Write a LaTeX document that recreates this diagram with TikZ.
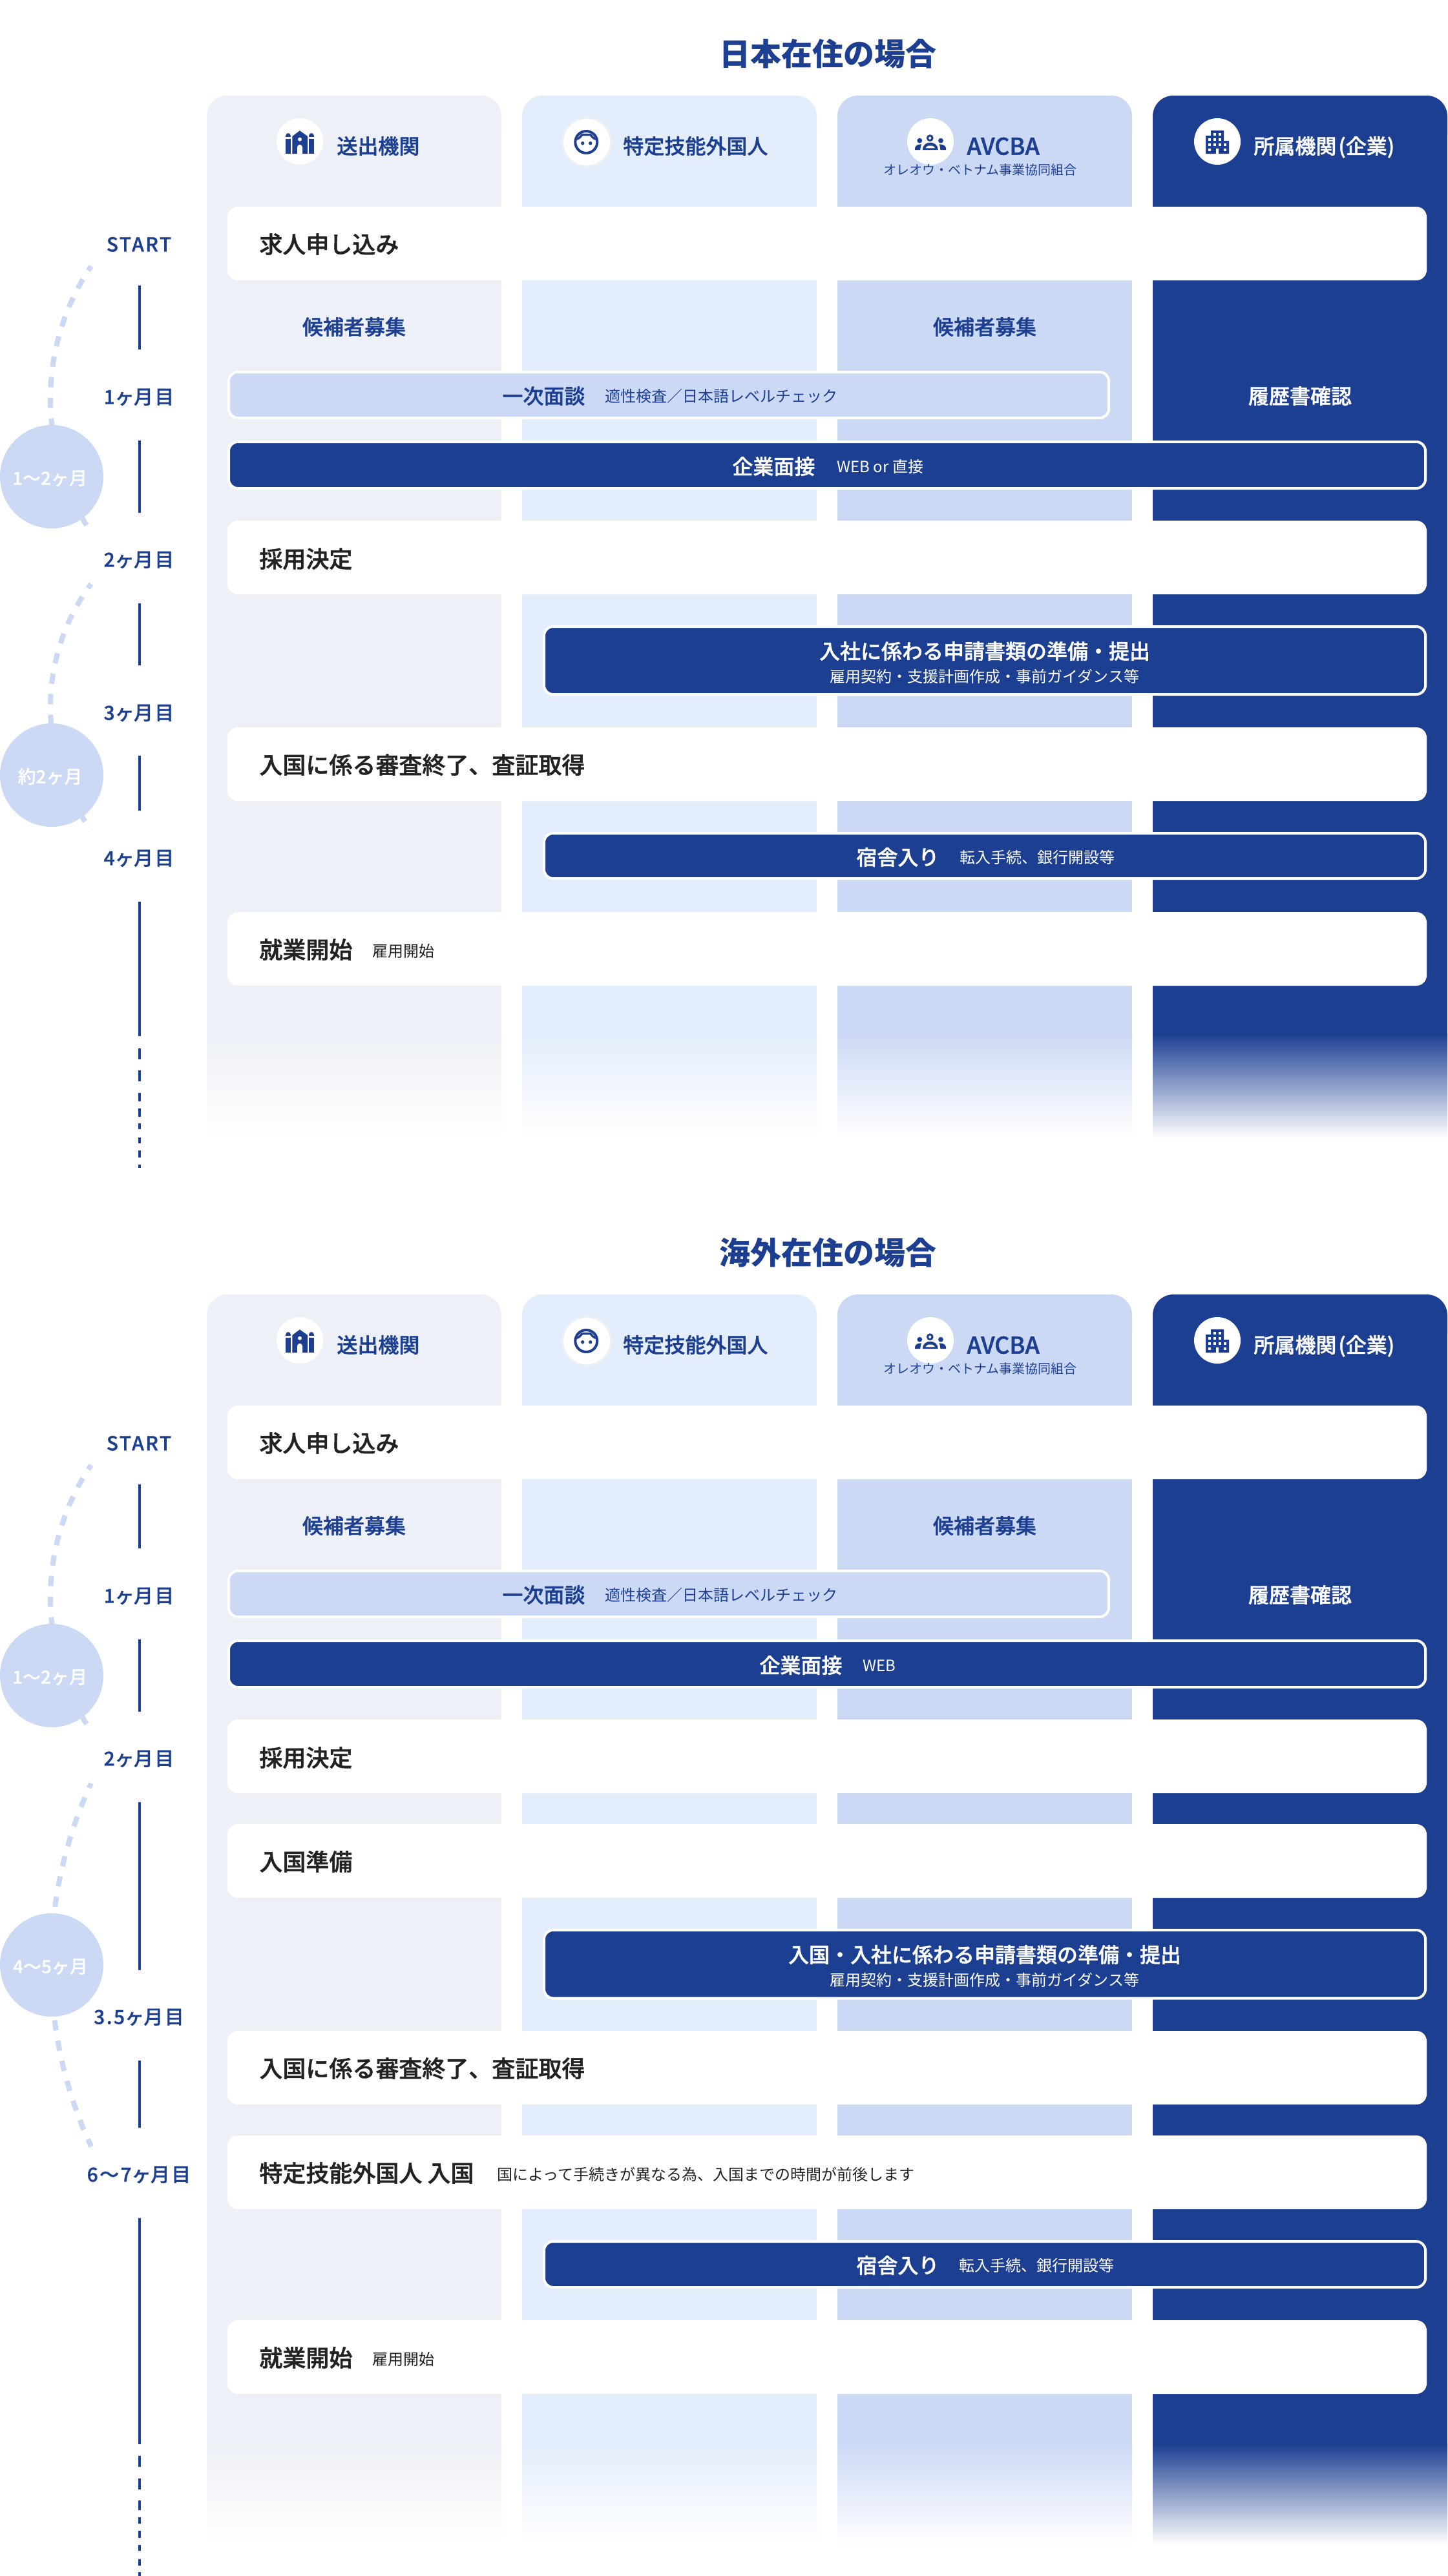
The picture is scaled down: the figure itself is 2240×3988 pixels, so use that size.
\documentclass[tikz,border=0pt]{standalone}
\usepackage{fontspec}
\setmainfont{Noto Sans CJK JP}
\newfontfamily\medf[FakeBold=0.4]{Noto Sans CJK JP Medium}
\newfontfamily\semi[FakeBold=1.2]{Noto Sans CJK JP Medium}
\newfontfamily\labf[LetterSpace=8,RawFeature=+palt,FakeBold=0.8]{Noto Sans CJK JP Medium}
\definecolor{nv}{HTML}{1D3F92}
\definecolor{cola}{HTML}{EDF0F6}
\definecolor{colb}{HTML}{E4EDFC}
\definecolor{colc}{HTML}{CCD9F5}
\definecolor{ink}{HTML}{222222}
\tikzset{
  whiterow/.style={fill=white,rounded corners=8pt},
  darkbar/.style={fill=nv,draw=white,line width=2pt,rounded corners=7pt},
  lightbar/.style={fill=colc,draw=white,line width=2pt,rounded corners=7pt},
  tl/.style={draw=nv,line width=1.8pt},
  arcdash/.style={draw=colc,line width=4pt,dash pattern=on 8pt off 8pt,dash phase=4pt},
  iconbg/.style={fill=white}
}
% text: name, anchor, x, centre y, size in pt, colour, text
\newcommand\T[7]{\node[inner sep=0pt,anchor=#2,yshift={-0.38*#5pt},text=#6] (\p-#1) at (#3,#4) {\fontsize{#5pt}{#5pt}\selectfont #7};}
\newcommand\Column[5]{% x1,x2,colour,fade start,end
  \fill[#3,rounded corners=16pt] (#1,148) rectangle (#2,240);
  \fill[#3] (#1,190) rectangle (#2,#4);
  \shade[top color=#3,bottom color=white] (#1,#4) rectangle (#2,#5);
}
\newcommand\Row[2]{\fill[whiterow] (352,#1) rectangle (2208,#2);}
\newcommand\DarkBar[3]{\path[darkbar] (#1,#2) rectangle (2206,#3);}
\newcommand\TL[3]{\coordinate (\p-#1a) at (216,#2); \coordinate (\p-#1b) at (216,#3); \draw[tl] (\p-#1a) -- (\p-#1b);}
\newcommand\DArc[4]{\draw[arcdash] plot[domain=180+#4:180-#4,samples=70,smooth] ({#1+#3*cos(\x)},{#2+#3*sin(\x)});}
\newcommand\Bubble[5]{\node[circle,fill=colc,minimum size=80pt,inner sep=0pt] (\p-#1) at (80,#2) {};
  \T{#1t}{base}{#3}{#5}{14}{white}{\medf #4}}
\newcommand\Label[3]{\T{#1}{base}{215}{#2}{15}{nv}{\labf #3}}
\newcommand\Header[1]{%
  \Column{320}{776}{cola}{#1}{\eee}
  \Column{808}{1264}{colb}{#1}{\eee}
  \Column{1296}{1752}{colc}{#1}{\eee}
  \Column{1784}{2240}{nv}{#1}{\eee}
  % icon circles
  \node[circle,iconbg,minimum size=36pt,inner sep=0pt] (\p-ica) at (464,219) {};
  \node[circle,fill=white,draw=cola,line width=1.5pt,minimum size=37.5pt,inner sep=0pt] (\p-icb) at (908,220) {};
  \node[circle,iconbg,minimum size=36pt,inner sep=0pt] (\p-icc) at (1440,219) {};
  \node[circle,iconbg,minimum size=36pt,inner sep=0pt] (\p-icd) at (1884,219) {};
  % iAi icon
  \fill[nv] (442,212.3) .. controls (442,204.2) and (450,204.2) .. (450,212.3) -- cycle;
  \fill[nv] (478,212.3) .. controls (478,204.2) and (486,204.2) .. (486,212.3) -- cycle;
  \fill[nv] (442,215) rectangle (450,238);
  \fill[nv] (478,215) rectangle (486,238);
  \fill[nv] (452.3,238) -- (452.3,211) -- (464,202.3) -- (476,211) -- (476,238) -- cycle;
  \fill[white] (464,215.7) circle[radius=3];
  \fill[white] (460,238) -- (460,228) .. controls (460,222.5) and (468,222.5) .. (468,228) -- (468,238) -- cycle;
  % face icon
  \draw[nv,line width=2pt] (907.3,220) circle[radius=17];
  \draw[nv,line width=1.7pt] (892.3,215.5) .. controls (895,214.5) and (897,213.5) .. (898.3,211.7) .. controls (899.5,209.5) and (900.5,208.6) .. (902,208.6) -- (912.6,208.6) .. controls (914.1,208.6) and (915.1,209.5) .. (916.3,211.7) .. controls (917.6,213.5) and (919.6,214.5) .. (922.3,215.5);
  \fill[nv] (901.7,221.7) circle[radius=2.7];
  \fill[nv] (913.7,221.7) circle[radius=2.7];
  % people icon
  \draw[nv,line width=1.5pt] (1439.3,213.7) circle[radius=3.8];
  \fill[nv] (1423.3,217.7) circle[radius=3.9];
  \fill[nv] (1456,217.7) circle[radius=3.9];
  \fill[nv] (1427.7,232) .. controls (1427.7,225) and (1433,220.7) .. (1439.7,220.7) .. controls (1446.4,220.7) and (1451.7,225) .. (1451.7,232) -- cycle;
  \fill[white] (1432.5,229.4) .. controls (1434,226.2) and (1436,225.5) .. (1439.7,225.5) .. controls (1443.4,225.5) and (1445.4,226.2) .. (1446.9,229.4) -- cycle;
  \fill[nv] (1416,232) -- (1416,229.5) .. controls (1416.5,225.5) and (1420,223.3) .. (1426,223.3) .. controls (1425,226) and (1424.3,229) .. (1424.2,232) -- cycle;
  \fill[nv] (1464,232) -- (1464,229.5) .. controls (1463.5,225.5) and (1460,223.3) .. (1453.6,223.3) .. controls (1454.6,226) and (1455.3,229) .. (1455.4,232) -- cycle;
  % building icon
  \fill[nv] (1866,238) -- (1866,210) -- (1874,210) -- (1874,202) -- (1894,202) -- (1894,218) -- (1902,218) -- (1902,238) -- cycle;
  \foreach \wx/\wy in {1880/208,1888/208,1872/216,1880/216,1888/216,1872/224,1880/224,1888/224,1896/224,1872/232,1896/232}
    \fill[white] (\wx-2,\wy-2) rectangle (\wx+2,\wy+2);
  \fill[white] (1882,230) rectangle (1886,238);
  % header texts
  \T{ha}{base west}{521}{226}{16}{nv}{\semi 送出機関}
  \T{hb}{base west}{964}{226}{16}{nv}{\semi 特定技能外国人}
  \T{hc}{base west}{1496}{226}{18}{nv}{\semi AVCBA}
  \T{hcs}{base}{1517}{263}{10}{nv}{オレオウ・ベトナム事業協同組合}
  \T{hd}{base west}{1940}{226}{16}{white}{\semi 所属機関\kern1.5pt(企業)}
}
% common upper part of the two flows
\newcommand\Upper[2]{% interview sub-text, position of company-interview label
  \Row{320}{434}
  \T{r1}{base west}{401}{378}{18}{ink}{\semi 求人申し込み}
  \T{ca}{base}{548}{506}{16}{nv}{\semi 候補者募集}
  \T{cc}{base}{1524}{506}{16}{nv}{\semi 候補者募集}
  \T{cd}{base}{2012}{613}{16}{white}{\semi 履歴書確認}
  \path[lightbar] (354,576) rectangle (1716,647);
  \T{i1}{base west}{777}{613}{16}{nv}{\semi 一次面談}
  \T{i1s}{base west}{936}{613}{12}{nv}{適性検査／日本語レベルチェック}
  \path[darkbar] (354,684) rectangle (2206,756);
  #2
  \Row{806}{920}
  \T{r2}{base west}{401}{865}{18}{ink}{\semi 採用決定}
  \Label{l0}{378}{START}
  \Label{l1}{614}{1ヶ月目}
  \Label{l2}{866}{2ヶ月目}
  \TL{a}{442}{541}
  \TL{b}{682}{794}
  \DArc{446}{618}{368}{34}
  \Bubble{b1}{738}{77}{1〜2ヶ月}{740}
}
\begin{document}
\begin{tikzpicture}[x=0.5pt,y=-0.5pt]
\useasboundingbox (0,0) rectangle (2240,3988);
\fill[white] (0,0) rectangle (2240,3988);
% ===== section 1
\def\p{s}\def\eee{1762}
\T{title}{base}{1281}{83}{24}{nv}{\bfseries 日本在住の場合}
\Header{1600}
\Upper{}{%
  \T{i2}{base west}{1133}{722}{16}{white}{\semi 企業面接}
  \T{i2s}{base west}{1295}{722}{12}{white}{WEB or 直接}
}
\DarkBar{842}{970}{1075}
\T{d1}{base}{1524}{1008}{16}{white}{\semi 入社に係わる申請書類の準備・提出}
\T{d1s}{base}{1524}{1047}{12}{white}{雇用契約・支援計画作成・事前ガイダンス等}
\Row{1126}{1240}
\T{r3}{base west}{401}{1184}{18}{ink}{\semi 入国に係る審査終了、査証取得}
\DarkBar{842}{1290}{1360}
\T{d2}{base west}{1325}{1327}{16}{white}{\semi 宿舎入り}
\T{d2s}{base west}{1485}{1327}{12}{white}{転入手続、銀行開設等}
\Row{1412}{1526}
\T{r4}{base west}{401}{1470}{18}{ink}{\semi 就業開始}
\T{r4s}{base west}{576}{1472}{12}{ink}{雇用開始}
\Label{l3}{1103}{3ヶ月目}
\Label{l4}{1328}{4ヶ月目}
\TL{c}{934}{1030}
\TL{d}{1170}{1255}
\TL{e}{1396}{1604}
\foreach \ya/\yb in {1622.6/1640,1657/1674,1691.5/1705,1716/1729,1739/1748,1761/1770,1781/1791.6,1803/1807.5}
  \draw[tl] (216,\ya) -- (216,\yb);
\DArc{397.5}{1094.5}{319.5}{36.6}
\Bubble{b2}{1200}{77.5}{約2ヶ月}{1202}
% ===== section 2
\begin{scope}[shift={(0,1856)}]
\def\p{t}\def\eee{2084}
\T{title}{base}{1281}{83}{24}{nv}{\bfseries 海外在住の場合}
\Header{1927}
\Upper{}{%
  \T{i2}{base west}{1175}{722}{16}{white}{\semi 企業面接}
  \T{i2s}{base west}{1335}{722}{12}{white}{WEB}
}
\end{scope}
\def\p{u}
\Row{2824}{2938}
\T{r5}{base west}{401}{2882}{18}{ink}{\semi 入国準備}
\DarkBar{842}{2988}{3093.5}
\T{d3}{base}{1524}{3026}{16}{white}{\semi 入国・入社に係わる申請書類の準備・提出}
\T{d3s}{base}{1524}{3065}{12}{white}{雇用契約・支援計画作成・事前ガイダンス等}
\Row{3144}{3258}
\T{r6}{base west}{401}{3202}{18}{ink}{\semi 入国に係る審査終了、査証取得}
\Row{3306}{3420}
\T{r7}{base west}{401}{3364}{18}{ink}{\semi 特定技能外国人 入国}
\T{r7s}{base west}{769}{3366}{12}{ink}{国によって手続きが異なる為、入国までの時間が前後します}
\DarkBar{842}{3470}{3541}
\T{d4}{base west}{1325}{3507}{16}{white}{\semi 宿舎入り}
\T{d4s}{base west}{1484}{3507}{12}{white}{転入手続、銀行開設等}
\Row{3592}{3706}
\T{r8}{base west}{401}{3650}{18}{ink}{\semi 就業開始}
\T{r8s}{base west}{576}{3652}{12}{ink}{雇用開始}
\Label{l5}{3122}{3.5ヶ月目}
\Label{l6}{3366}{6〜7ヶ月目}
\TL{f}{2790}{3049.5}
\TL{g}{3190}{3294}
\TL{h}{3434}{3784}
\foreach \ya/\yb in {3801.5/3819,3837/3854,3871/3886,3897/3907,3918/3929,3940/3949,3962/3972,3982/3988}
  \draw[tl] (216,\ya) -- (216,\yb);
\DArc{747}{3042}{668}{24.9}
\Bubble{b3}{3042}{78}{4〜5ヶ月}{3044}
\end{tikzpicture}
\end{document}
